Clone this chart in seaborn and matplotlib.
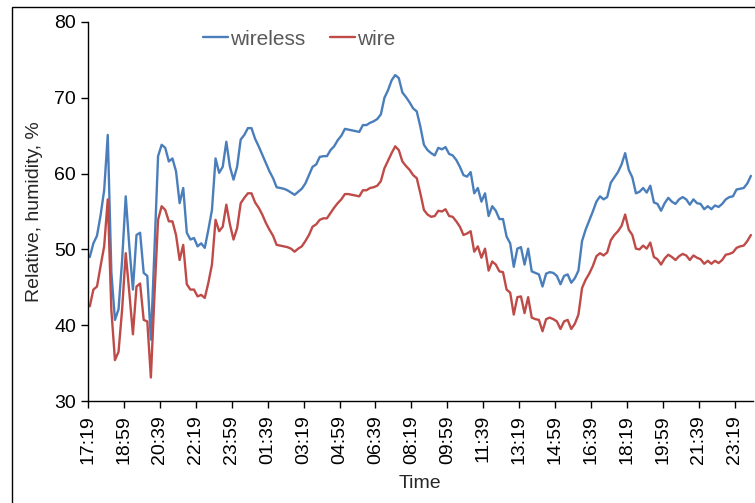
import numpy as np
import pandas as pd
import matplotlib
matplotlib.use("Agg")
import matplotlib.pyplot as plt
import seaborn as sns
from matplotlib.patches import Rectangle

# readings every 10 minutes starting 17:19
wireless = [
    49.0, 50.8, 51.8, 54.5, 57.8, 65.1, 47.0, 40.7, 42.1, 48.6,
    57.0, 50.4, 44.7, 51.9, 52.2, 46.9, 46.5, 38.1, 50.0, 62.3,
    63.8, 63.4, 61.6, 62.0, 60.3, 56.1, 58.1, 52.2, 51.3, 51.5,
    50.4, 50.8, 50.2, 52.6, 55.2, 62.0, 60.1, 60.9, 64.2, 60.9,
    59.2, 60.9, 64.5, 65.1, 66.0, 66.0, 64.6, 63.6, 62.5, 61.4,
    60.3, 59.4, 58.2, 58.1, 58.0, 57.8, 57.5, 57.2, 57.6, 58.0,
    58.7, 59.8, 60.9, 61.2, 62.2, 62.3, 62.3, 63.1, 63.6, 64.4,
    65.0, 65.9, 65.8, 65.7, 65.6, 65.5, 66.4, 66.4, 66.7, 66.9,
    67.2, 67.8, 70.0, 71.0, 72.3, 73.0, 72.6, 70.7, 70.1, 69.4,
    68.6, 68.2, 66.2, 63.8, 63.1, 62.7, 62.4, 63.4, 63.2, 63.5,
    62.6, 62.4, 61.8, 60.9, 59.8, 59.6, 60.2, 57.4, 58.1, 56.3,
    57.4, 54.4, 55.7, 55.1, 54.0, 54.0, 51.7, 50.8, 47.7, 50.1,
    50.3, 48.0, 50.1, 47.1, 46.9, 46.7, 45.1, 46.8, 47.0, 46.9,
    46.5, 45.4, 46.5, 46.7, 45.6, 46.2, 47.2, 51.1, 52.6, 53.8,
    55.0, 56.3, 57.0, 56.6, 56.9, 58.8, 59.5, 60.2, 61.2, 62.7,
    60.5, 59.5, 57.4, 57.6, 58.1, 57.5, 58.4, 56.2, 56.0, 55.1,
    56.1, 56.8, 56.3, 56.0, 56.6, 56.9, 56.6, 55.9, 56.6, 56.1,
    56.0, 55.3, 55.7, 55.3, 55.8, 55.6, 56.0, 56.6, 56.9, 57.0,
    57.9, 58.0, 58.1, 58.7, 59.7,
]

wire = [
    42.5, 44.7, 45.1, 47.8, 50.4, 56.6, 42.0, 35.4, 36.5, 42.1,
    49.5, 44.3, 38.8, 45.1, 45.5, 40.7, 40.5, 33.1, 44.0, 53.9,
    55.7, 55.2, 53.7, 53.7, 51.9, 48.6, 50.6, 45.4, 44.7, 44.7,
    43.8, 44.0, 43.6, 45.6, 48.0, 53.9, 52.4, 53.0, 55.9, 53.3,
    51.3, 52.8, 56.1, 56.8, 57.4, 57.4, 56.2, 55.5, 54.6, 53.5,
    52.6, 51.8, 50.6, 50.5, 50.4, 50.3, 50.1, 49.7, 50.1, 50.4,
    51.1, 51.9, 53.0, 53.3, 53.9, 54.1, 54.1, 54.8, 55.5, 56.1,
    56.6, 57.3, 57.3, 57.2, 57.1, 57.0, 57.8, 57.8, 58.1, 58.2,
    58.4, 59.0, 60.7, 61.7, 62.7, 63.6, 63.1, 61.6, 61.0, 60.5,
    59.8, 59.4, 57.4, 55.2, 54.6, 54.3, 54.4, 55.1, 55.0, 55.3,
    54.4, 54.3, 53.7, 53.0, 51.9, 52.1, 52.4, 49.7, 50.4, 48.9,
    50.1, 47.2, 48.4, 48.0, 47.1, 47.0, 44.7, 44.3, 41.4, 43.7,
    43.8, 41.6, 43.7, 41.0, 40.8, 40.7, 39.2, 40.8, 41.0, 40.8,
    40.5, 39.5, 40.5, 40.7, 39.5, 40.2, 41.4, 44.9, 46.0, 46.8,
    47.8, 49.1, 49.5, 49.2, 49.6, 51.2, 51.9, 52.4, 53.1, 54.6,
    52.6, 51.9, 50.1, 50.0, 50.5, 50.1, 50.9, 49.0, 48.7, 48.0,
    48.8, 49.3, 49.0, 48.6, 49.1, 49.4, 49.2, 48.6, 49.2, 48.9,
    48.7, 48.1, 48.5, 48.1, 48.5, 48.2, 48.6, 49.3, 49.4, 49.6,
    50.2, 50.4, 50.5, 51.1, 51.9,
]

tick_labels = ["17:19", "18:59", "20:39", "22:19", "23:59", "01:39", "03:19",
               "04:59", "06:39", "08:19", "09:59", "11:39", "13:19", "14:59",
               "16:39", "18:19", "19:59", "21:39", "23:19"]

n = len(wireless)
df = pd.DataFrame({
    "idx": np.concatenate([np.arange(n), np.arange(n)]),
    "rh": wireless + wire,
    "sensor": ["wireless"] * n + ["wire"] * n,
})

sns.set_style("ticks")
plt.rcParams["font.family"] = ["Liberation Sans", "DejaVu Sans"]

fig = plt.figure(figsize=(7.55, 5.03), dpi=100)
ax = fig.add_axes([88 / 755, 1 - 401 / 503, (752.7 - 88) / 755, (401 - 22) / 503])

sns.lineplot(data=df, x="idx", y="rh", hue="sensor",
             palette={"wireless": "#4A7EBB", "wire": "#BE4B48"},
             linewidth=1.7, ax=ax)

ax.set_xlim(-0.5, n - 0.5)
ax.set_ylim(30, 80)
ax.set_yticks(range(30, 81, 10))
ax.set_xticks(np.arange(len(tick_labels)) * 10 - 0.5)
ax.set_xticklabels(tick_labels, rotation=90)
ax.tick_params(axis="both", labelsize=14, colors="black", length=5, width=1,
               direction="out")
ax.tick_params(axis="x", pad=5)
ax.set_xlabel("Time", fontsize=14, labelpad=8)
ax.set_ylabel("Relative, humidity, %", fontsize=14, labelpad=8)
sns.despine(ax=ax)
for s in ("left", "bottom"):
    ax.spines[s].set_color("black")
    ax.spines[s].set_linewidth(1)

leg = ax.legend(loc="center", bbox_to_anchor=(0.318, 0.955), ncol=2,
                frameon=False, fontsize=15, handlelength=1.2, handletextpad=0.1,
                columnspacing=1.2)
for t in leg.get_texts():
    t.set_color("#595959")

# outer chart border
fig.add_artist(Rectangle((12 / 755, -0.1), 1.2, 1.1 - 7 / 503,
                         transform=fig.transFigure, fill=False,
                         edgecolor="black", linewidth=1))

fig.savefig("out.png", dpi=100)
